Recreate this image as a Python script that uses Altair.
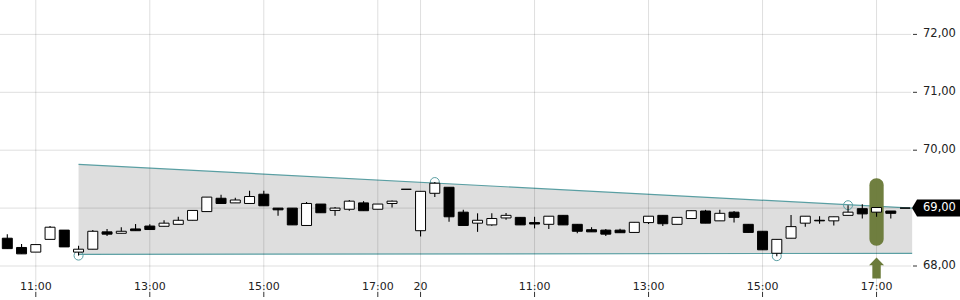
import altair as alt
import pandas as pd

# 15-minute candles: day 1 10:30-17:30, day 2 ("20") 09:00-17:30
opens = [68.48, 68.32, 68.24, 68.46, 68.62, 68.24, 68.29, 68.59, 68.565, 68.64,
         68.69, 68.686, 68.72, 68.79, 68.94, 69.17, 69.09, 69.08, 69.24, 69.00,
         69.00, 68.70, 69.07, 68.96, 68.98, 69.09, 68.98, 69.08, 69.325,
         68.61, 69.256, 69.36, 68.93, 68.74, 68.71, 68.83, 68.84, 68.75, 68.72,
         68.875, 68.72, 68.627, 68.62, 68.62, 68.58, 68.75, 68.875, 68.72, 68.82,
         68.95, 68.78, 68.93, 68.72, 68.60, 68.22, 68.48, 68.74, 68.79, 68.78,
         68.875, 68.99, 68.93, 68.95, 69.00]
highs = [68.55, 68.38, 68.37, 68.69, 68.62, 68.35, 68.62, 68.64, 68.67, 68.725,
         68.72, 68.79, 68.85, 68.96, 69.19, 69.23, 69.18, 69.30, 69.30, 69.00,
         69.00, 69.105, 69.07, 69.02, 69.14, 69.12, 69.07, 69.13, 69.325,
         69.29, 69.45, 69.36, 68.97, 68.91, 68.91, 68.915, 68.84, 68.85, 68.86,
         68.875, 68.72, 68.67, 68.64, 68.645, 68.755, 68.86, 68.875, 68.84, 68.955,
         68.97, 68.97, 68.95, 68.72, 68.60, 68.46, 68.88, 68.86, 68.86, 68.85,
         69.05, 69.065, 69.01, 68.95, 69.00]
lows = [68.30, 68.21, 68.24, 68.46, 68.33, 68.18, 68.29, 68.52, 68.565, 68.61,
        68.63, 68.686, 68.72, 68.79, 68.94, 69.08, 69.09, 69.08, 69.04, 68.87,
        68.71, 68.70, 68.92, 68.87, 68.955, 68.955, 68.98, 69.01, 69.325,
        68.51, 69.19, 68.765, 68.70, 68.59, 68.695, 68.80, 68.71, 68.65, 68.64,
        68.71, 68.565, 68.59, 68.52, 68.575, 68.58, 68.725, 68.69, 68.72, 68.82,
        68.74, 68.78, 68.75, 68.58, 68.28, 68.17, 68.48, 68.68, 68.73, 68.70,
        68.875, 68.82, 68.85, 68.82, 69.00]
closes = [68.30, 68.21, 68.37, 68.67, 68.33, 68.29, 68.60, 68.55, 68.60, 68.61,
          68.63, 68.74, 68.79, 68.96, 69.19, 69.08, 69.14, 69.20, 69.04, 68.97,
          68.71, 69.08, 68.92, 69.00, 69.12, 68.955, 69.07, 69.12, 69.325,
          69.29, 69.43, 68.85, 68.70, 68.79, 68.82, 68.875, 68.71, 68.725, 68.86,
          68.71, 68.60, 68.59, 68.55, 68.575, 68.755, 68.86, 68.73, 68.84, 68.955,
          68.74, 68.91, 68.84, 68.58, 68.28, 68.46, 68.68, 68.86, 68.78, 68.85,
          68.93, 68.90, 69.01, 68.91, 69.00]

tick_idx = [2, 10, 18, 26, 29, 37, 45, 53, 61]
tick_text = ["11:00", "13:00", "15:00", "17:00", "20", "11:00", "13:00", "15:00", "17:00"]
y_ticks = [68, 69, 70, 71, 72]

channel_idx = [5, 63.5]
channel_upper = [69.756, 69.00]
channel_lower = [68.202, 68.219]

touch_idx = [5, 30, 54, 59]
touch_val = [68.18, 69.45, 68.17, 69.05]

signal_idx = [61]
signal_top = [69.515]
signal_bottom = [68.35]

last_price = [69.00]
last_text = ["69,00"]

FONT = "DejaVu Sans"
TEAL = "#5a9fa3"
OLIVE = "#6b7b3a"
GRID = "black"

candles = pd.DataFrame({"i": list(range(len(opens))), "open": opens, "high": highs,
                        "low": lows, "close": closes})
channel = pd.DataFrame({"i": channel_idx, "upper": channel_upper, "lower": channel_lower})
touches = pd.DataFrame({"i": touch_idx, "v": touch_val})
ticks = pd.DataFrame({"i": tick_idx, "t": tick_text})
yt = pd.DataFrame({"v": y_ticks})
signal = pd.DataFrame({"i": signal_idx, "top": signal_top, "bottom": signal_bottom})
last = pd.DataFrame({"v": last_price, "t": last_text})

XS = alt.Scale(domain=[-0.5123, 63.488], nice=False, zero=False)
YS = alt.Scale(domain=[67.413, 72.594], nice=False, zero=False)

area = alt.Chart(channel).mark_area(color="#dedede", opacity=1).encode(
    x=alt.X("i:Q", scale=XS, axis=None),
    y=alt.Y("upper:Q", scale=YS, axis=None),
    y2="lower:Q",
)
upper_line = alt.Chart(channel).mark_line(color=TEAL, strokeWidth=1.2).encode(
    x=alt.X("i:Q", scale=XS, axis=None),
    y=alt.Y("upper:Q", scale=YS, axis=None),
)
lower_line = alt.Chart(channel).mark_line(color=TEAL, strokeWidth=1.2).encode(
    x=alt.X("i:Q", scale=XS, axis=None),
    y=alt.Y("lower:Q", scale=YS, axis=None),
)
hgrid = alt.Chart(yt).mark_rule(color=GRID, opacity=0.13, strokeWidth=1).encode(
    y=alt.Y("v:Q", scale=YS, axis=None),
    x=alt.value(0), x2=alt.value(911),
)
ytick = alt.Chart(yt).mark_rule(color="#333", strokeWidth=1).encode(
    y=alt.Y("v:Q", scale=YS, axis=None),
    x=alt.value(913), x2=alt.value(917),
)
ylab = alt.Chart(yt).transform_calculate(
    lab="replace(format(datum.v, '.2f'), '.', ',')"
).mark_text(font=FONT, fontSize=11.5, color="#222", align="left",
            baseline="middle").encode(
    y=alt.Y("v:Q", scale=YS, axis=None),
    x=alt.value(923),
    text="lab:N",
)
vgrid = alt.Chart(ticks).mark_rule(color=GRID, opacity=0.13, strokeWidth=1).encode(
    x=alt.X("i:Q", scale=XS, axis=None),
    y=alt.value(0), y2=alt.value(292),
)
xtick = alt.Chart(ticks).mark_rule(color="#333", strokeWidth=1).encode(
    x=alt.X("i:Q", scale=XS, axis=None),
    y=alt.value(292), y2=alt.value(297),
)
xlab = alt.Chart(ticks).mark_text(font=FONT, fontSize=11, color="#222",
                                  align="center", baseline="middle").encode(
    x=alt.X("i:Q", scale=XS, axis=None),
    y=alt.value(287),
    text="t:N",
)
circles = alt.Chart(touches).mark_point(shape="circle", size=81, filled=False,
                                        color=TEAL, strokeWidth=1, opacity=1).encode(
    x=alt.X("i:Q", scale=XS, axis=None),
    y=alt.Y("v:Q", scale=YS, axis=None),
)
marker = alt.Chart(signal).transform_calculate(
    x1="datum.i - 0.5", x2="datum.i + 0.5"
).mark_rect(color=OLIVE, cornerRadius=7, opacity=0.97).encode(
    x=alt.X("x1:Q", scale=XS, axis=None),
    x2="x2:Q",
    y=alt.Y("top:Q", scale=YS, axis=None),
    y2="bottom:Q",
)
wicks = alt.Chart(candles).mark_rule(color="black", strokeWidth=1.1).encode(
    x=alt.X("i:Q", scale=XS, axis=None),
    y=alt.Y("low:Q", scale=YS, axis=None),
    y2="high:Q",
)
bodies = alt.Chart(candles).transform_calculate(
    xl="datum.i - 0.35", xr="datum.i + 0.35"
).mark_rect(stroke="black", strokeWidth=1).encode(
    x=alt.X("xl:Q", scale=XS, axis=None),
    x2="xr:Q",
    y=alt.Y("open:Q", scale=YS, axis=None),
    y2="close:Q",
    fill=alt.condition("datum.close >= datum.open", alt.value("white"), alt.value("black")),
)
arrow = alt.Chart(signal).mark_point(
    shape="M0,-1 L0.714,-0.267 L0.4,-0.267 L0.4,1 L-0.4,1 L-0.4,-0.267 L-0.714,-0.267 Z",
    size=441, filled=True, color=OLIVE, opacity=1, strokeWidth=0,
).encode(
    x=alt.X("i:Q", scale=XS, axis=None),
    y=alt.value(268),
)
tag = alt.Chart(last).mark_point(
    shape="M-1,0 L-0.79,-0.354 L1,-0.354 L1,0.354 L-0.79,0.354 Z",
    size=2304, filled=True, color="black", opacity=1, strokeWidth=0,
).encode(
    x=alt.value(936),
    y=alt.Y("v:Q", scale=YS, axis=None),
)
tag_text = alt.Chart(last).mark_text(font=FONT, fontSize=11.5, color="white",
                                     align="left", baseline="middle").encode(
    x=alt.value(923),
    y=alt.Y("v:Q", scale=YS, axis=None),
    text="t:N",
)

chart = alt.layer(
    area, upper_line, lower_line, hgrid, vgrid, xtick, xlab, ytick, ylab, circles,
    marker, wicks, bodies, arrow, tag, tag_text,
).properties(
    width=912, height=300,
    autosize=alt.AutoSizeParams(type="none"),
    padding={"left": 0, "right": 48, "top": 0, "bottom": 0},
    background="white",
).configure_view(strokeWidth=0)

chart.save("out.html", embed_options={"renderer": "svg", "actions": False})
